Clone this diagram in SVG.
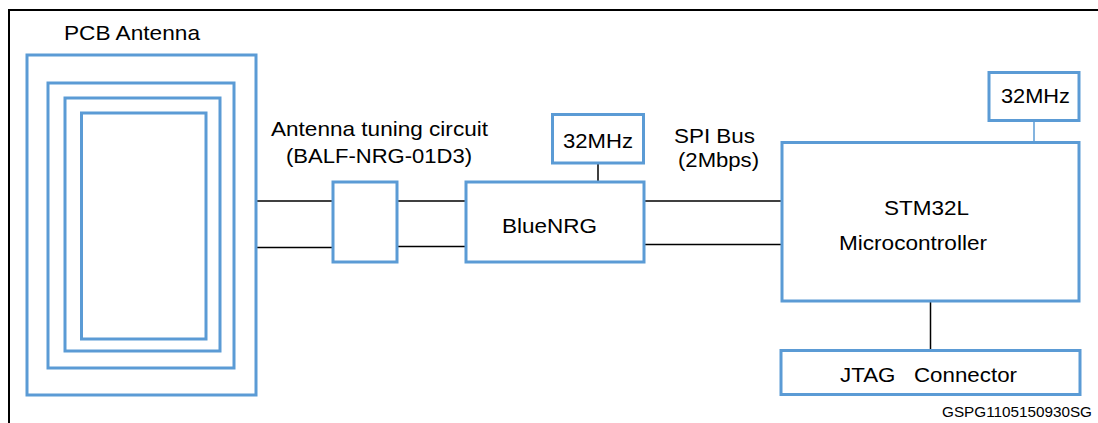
<svg xmlns="http://www.w3.org/2000/svg" width="1098" height="423" viewBox="0 0 1098 423">
<style>
.box{fill:#ffffff;stroke:#5b9bd5;stroke-width:3}
.wire{stroke:#000000;stroke-width:1.5;fill:none}
.bwire{stroke:#5b9bd5;stroke-width:1.5;fill:none}
.t{font-family:"Liberation Sans",Arial,sans-serif;font-size:21px;fill:#000000}
.s{font-family:"Liberation Sans",Arial,sans-serif;font-size:14px;fill:#000000}
</style>
<rect width="1098" height="423" fill="#ffffff"/>
<path d="M9 423 V10 H1098" stroke="#000000" stroke-width="2" fill="none"/>
<g id="connectors">
<line class="wire" x1="256" y1="201" x2="333" y2="201"/>
<line class="wire" x1="256" y1="247.5" x2="333" y2="247.5"/>
<line class="wire" x1="397" y1="201" x2="466" y2="201"/>
<line class="wire" x1="397" y1="246.5" x2="466" y2="246.5"/>
<line class="wire" x1="644" y1="201" x2="782" y2="201"/>
<line class="wire" x1="644" y1="244.5" x2="782" y2="244.5"/>
<line class="wire" x1="598" y1="163" x2="598" y2="182"/>
<line class="bwire" x1="1034" y1="120" x2="1034" y2="147"/>
<line class="wire" x1="930.5" y1="301" x2="930.5" y2="350"/>
</g>
<g id="pcb-antenna">
<text class="t" x="64" y="40" textLength="136" lengthAdjust="spacingAndGlyphs">PCB Antenna</text>
<rect class="box" x="27" y="55" width="229" height="340"/>
<rect class="box" x="48" y="83" width="186" height="285"/>
<rect class="box" x="65" y="98" width="155" height="253"/>
<rect class="box" x="81.5" y="113" width="124.5" height="226"/>
</g>
<g id="tuning-circuit">
<text class="t" x="271" y="136" textLength="217" lengthAdjust="spacingAndGlyphs">Antenna tuning circuit</text>
<text class="t" x="286" y="163" textLength="186" lengthAdjust="spacingAndGlyphs">(BALF-NRG-01D3)</text>
<rect class="box" x="333" y="182" width="64" height="80"/>
</g>
<g id="bluenrg">
<rect class="box" x="466" y="182" width="178" height="80"/>
<text class="t" x="502" y="233" textLength="95" lengthAdjust="spacingAndGlyphs">BlueNRG</text>
</g>
<g id="clock-bluenrg">
<rect class="box" x="552.5" y="114.5" width="91" height="48.5"/>
<text class="t" x="563" y="148" textLength="70" lengthAdjust="spacingAndGlyphs">32MHz</text>
</g>
<g id="spi-label">
<text class="t" x="674" y="143" textLength="81" lengthAdjust="spacingAndGlyphs">SPI Bus</text>
<text class="t" x="678" y="167" textLength="81" lengthAdjust="spacingAndGlyphs">(2Mbps)</text>
</g>
<g id="stm32l">
<rect class="box" x="782" y="142.5" width="297" height="158.5"/>
<text class="t" x="884" y="215" textLength="85" lengthAdjust="spacingAndGlyphs">STM32L</text>
<text class="t" x="839" y="250" textLength="148" lengthAdjust="spacingAndGlyphs">Microcontroller</text>
</g>
<g id="clock-stm32">
<rect class="box" x="989" y="72.5" width="90" height="48"/>
<text class="t" x="1001" y="103" textLength="69" lengthAdjust="spacingAndGlyphs">32MHz</text>
</g>
<g id="jtag">
<rect class="box" x="781" y="350.5" width="299" height="44"/>
<text class="t" x="840" y="382" textLength="177" lengthAdjust="spacingAndGlyphs" xml:space="preserve">JTAG   Connector</text>
</g>
<text class="s" x="942" y="417" textLength="150" lengthAdjust="spacingAndGlyphs">GSPG1105150930SG</text>
</svg>
